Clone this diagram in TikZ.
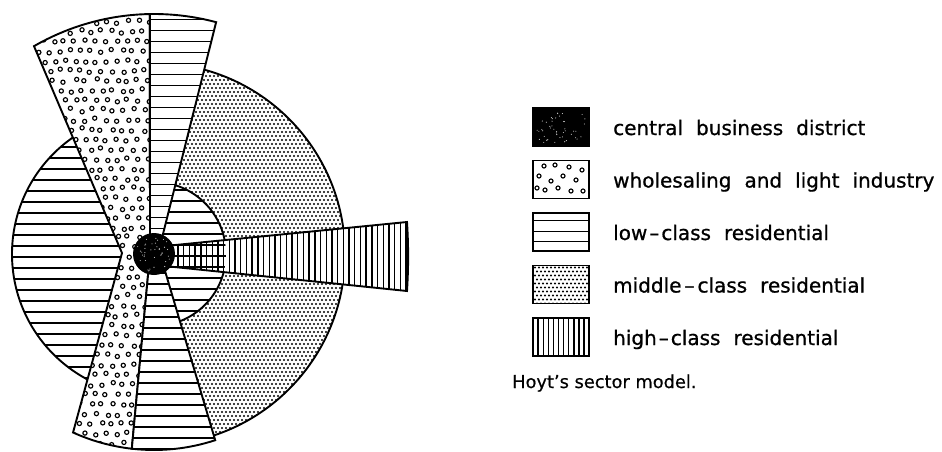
\documentclass[tikz,border=0pt]{standalone}
\usepackage{fontspec}
\newfontfamily\lgd[FakeBold=0.8]{DejaVu Sans}
\newfontfamily\capfont[FakeBold=0.5]{DejaVu Sans}
\usetikzlibrary{calc}
\newcommand\widewords{\spaceskip=13pt\relax}
\tikzset{
  outline/.style={line width=1.9pt, line join=miter, draw=black},
  hatch/.style={line width=1.4pt},
  ringmark/.style={line width=1.15pt},
  lgdtext/.style={anchor=base west, inner sep=0pt, font={\lgd\fontsize{20}{24}\selectfont}},
  captext/.style={anchor=base west, inner sep=0pt, font={\capfont\fontsize{17.8}{20}\selectfont}},
}
\begin{document}
\begin{tikzpicture}[x=1pt,y=-1pt]
\useasboundingbox (0,0) rectangle (942,451);
\fill[white] (0,0) rectangle (942,451);
\pgfmathsetseed{7}
% key points
\coordinate (C) at (154,254);
\coordinate (UL) at ($(C)+(-120:240)$);
\coordinate (UT) at ($(C)+(-91:240)$);
\coordinate (UR) at ($(C)+(-75:240)$);
\coordinate (A1) at (158,254);
\coordinate (A2) at (160,254);
\coordinate (W0) at (150,254);
\coordinate (V) at (122,253);
\coordinate (LL) at ($(C)+(114.4:196)$);
\coordinate (LM) at ($(C)+(96.5:196)$);
\coordinate (LR) at ($(C)+(71.8:196)$);
\coordinate (H1) at (407,222);
\coordinate (H2) at (407,291);
\coordinate (HT) at (150,247.5);
\coordinate (HB) at (150,264.5);

% middle-class circle and inner low-class circle
\begin{scope}
  \clip (A1) -- ($(A1)!2!(UR)$) -- (700,-250) -- (700,750) -- ($(A2)!2.5!(LR)$) -- cycle;
  \fill[white] (C) circle[radius=191];
  \begin{scope}
    \clip (C) circle[radius=191];
    \foreach \j in {0,...,99} {
      \pgfmathsetmacro\yy{60+4*\j}
      \pgfmathsetmacro\off{mod(\j,2)*2}
      \foreach \i in {0,...,50} {\fill ({150+\off+4*\i},\yy) circle (1.05pt);}
    }
  \end{scope}
  \draw[outline] (C) circle[radius=191];
  \fill[white] (C) circle[radius=72];
  \begin{scope}
    \clip (C) circle[radius=72];
    \foreach \k in {0,...,16} \draw[hatch] (140,{179+11*\k}) -- (240,{179+11*\k});
  \end{scope}
  \draw[outline] (C) circle[radius=72];
\end{scope}

% high-class wedge
\fill[white] (HT) -- (H1) .. controls (408.5,245) and (408.5,268) .. (H2) -- (HB) -- cycle;
\begin{scope}
  \clip (HT) -- (H1) .. controls (408.5,245) and (408.5,268) .. (H2) -- (HB) -- cycle;
  \foreach \k in {0,...,41} \draw[hatch] ({178+5.7*\k},200) -- ({178+5.7*\k},310);
  \clip (C) circle[radius=72];
  \foreach \k in {0,...,16} \draw[hatch] (140,{179+11*\k}) -- (240,{179+11*\k});
\end{scope}
\draw[outline] (HT) -- (H1) .. controls (408.5,245) and (408.5,268) .. (H2) -- (HB);

% left low-class circle
\begin{scope}
  \clip (V) -- ($(V)!1.5!(UL)$) -- (-200,-200) -- (-200,700) -- ($(V)!1.8!(LL)$) -- cycle;
  \begin{scope}
    \clip (C) circle[radius=142];
    \foreach \k in {0,...,30} \draw[hatch] (0,{114+11*\k}) -- (160,{114+11*\k});
  \end{scope}
  \draw[outline] (C) circle[radius=142];
\end{scope}

% wholesaling and light industry
\fill[white] (UL) arc[start angle=-120,end angle=-91,radius=240] -- (W0) -- (LM) arc[start angle=96.5,end angle=114.4,radius=196] -- (V) -- cycle;
\begin{scope}
  \clip (UL) arc[start angle=-120,end angle=-91,radius=240] -- (W0) -- (LM) arc[start angle=96.5,end angle=114.4,radius=196] -- (V) -- cycle;
  \foreach \j in {0,...,47} {
    \foreach \i in {0,...,13} {
      \pgfmathsetmacro\rx{28+10.5*\i+mod(\j,2)*5+2*rand}
      \pgfmathsetmacro\ry{12+9.8*\j+1.8*rand}
      \draw[ringmark] (\rx,\ry) circle (2.1pt);
    }
  }
\end{scope}
\draw[outline] (UL) arc[start angle=-120,end angle=-91,radius=240] -- (W0) -- (LM) arc[start angle=96.5,end angle=114.4,radius=196] -- (V) -- cycle;

% upper low-class sector
\fill[white] (UT) arc[start angle=-91,end angle=-75,radius=240] -- (A1) -- (W0) -- cycle;
\begin{scope}
  \clip (UT) arc[start angle=-91,end angle=-75,radius=240] -- (A1) -- (W0) -- cycle;
  \foreach \k in {0,...,22} \draw[hatch] (140,{19.3+11*\k}) -- (230,{19.3+11*\k});
\end{scope}
\draw[outline] (UT) arc[start angle=-91,end angle=-75,radius=240] -- (A1) -- (W0) -- cycle;

% lower low-class sector
\fill[white] (W0) -- (A2) -- (LR) arc[start angle=71.8,end angle=96.5,radius=196] -- cycle;
\begin{scope}
  \clip (W0) -- (A2) -- (LR) arc[start angle=71.8,end angle=96.5,radius=196] -- cycle;
  \foreach \k in {0,...,18} \draw[hatch] (120,{251+11*\k}) -- (230,{251+11*\k});
\end{scope}
\draw[outline] (W0) -- (A2) -- (LR) arc[start angle=71.8,end angle=96.5,radius=196] -- cycle;

% central business district
\fill[black] (C) circle[radius=21];
\foreach \n in {1,...,40} {
  \pgfmathsetmacro\ang{360*rnd}
  \pgfmathsetmacro\rr{18*sqrt(rnd)}
  \fill[white!60!gray] ($(C)+(\ang:\rr)$) circle (0.55pt);
}

% legend boxes
\fill[black] (533,108) rectangle (589,146);
\foreach \n in {1,...,45} {
  \pgfmathsetmacro\px{537+48*rnd}
  \pgfmathsetmacro\py{111+32*rnd}
  \fill[white!60!gray] (\px,\py) circle (0.55pt);
}
\draw[outline] (533,108) rectangle (589,146);

\fill[white] (533,160.5) rectangle (589,198.5);
\foreach \p in {(544,166),(555,165),(569,167),(582,170),(539,176),(551,181),(563,176),(576,180),(545,190),(558,188),(571,191),(583,191),(537,188)}
  \draw[ringmark] \p circle (2pt);
\draw[outline] (533,160.5) rectangle (589,198.5);

\fill[white] (533,213) rectangle (589,251);
\foreach \k in {0,1,2} \draw[hatch] (533,{220.7+10.5*\k}) -- (589,{220.7+10.5*\k});
\draw[outline] (533,213) rectangle (589,251);

\fill[white] (533,265.5) rectangle (589,303.5);
\begin{scope}
  \clip (533,265.5) rectangle (589,303.5);
  \foreach \j in {0,...,9} {
    \pgfmathsetmacro\yy{267.5+4*\j}
    \pgfmathsetmacro\off{mod(\j,2)*2}
    \foreach \i in {0,...,14} {\fill ({535+\off+4*\i},\yy) circle (1.05pt);}
  }
\end{scope}
\draw[outline] (533,265.5) rectangle (589,303.5);

\fill[white] (533,318) rectangle (589,356);
\foreach \k in {1,...,10} \draw[hatch] ({533+5.1*\k},318) -- ({533+5.1*\k},356);
\draw[outline] (533,318) rectangle (589,356);

% legend texts
\node[lgdtext] (t1) at (613,135) {\widewords central business district};
\node[lgdtext] (t2) at (613,187.5) {\widewords wholesaling and light industry};
\node[lgdtext] (t3) at (613,240) {\widewords low\kern2pt–\kern2pt class residential};
\node[lgdtext] (t4) at (613,292.5) {\widewords middle\kern3pt–\kern3pt class residential};
\node[lgdtext] (t5) at (613,345) {\widewords high\kern2pt–\kern2pt class residential};
\node[captext] (cap) at (512,388) {Hoyt’s sector model.};
\end{tikzpicture}
\end{document}
